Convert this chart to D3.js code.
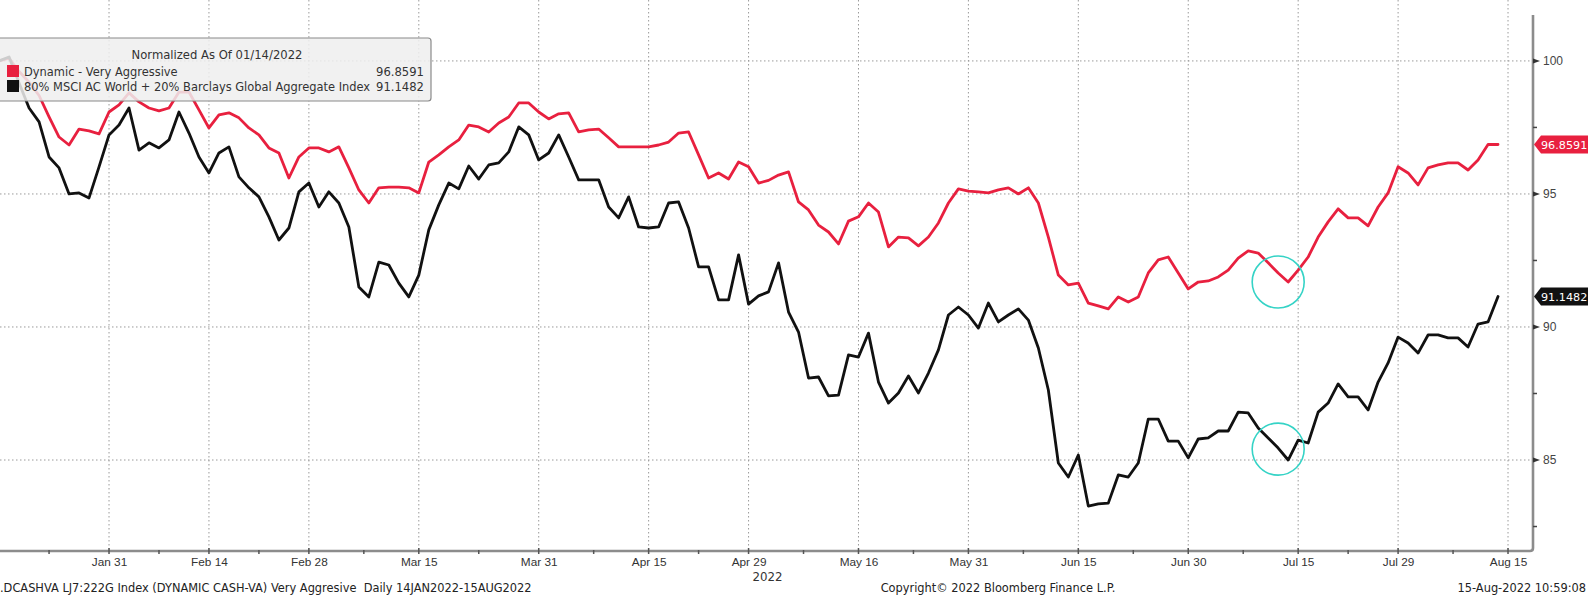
<!DOCTYPE html>
<html><head><meta charset="utf-8">
<script src="https://cdn.jsdelivr.net/npm/d3@7"></script>
<style>
html,body{margin:0;padding:0;background:#fff;overflow:hidden}
svg{display:block;font-family:"DejaVu Sans",sans-serif}
</style></head><body>
<svg id="chart" width="1588" height="600"></svg>
<script>
// ---------- data ----------
const startDate = "2022-01-14";
const endDate = "2022-08-12";
const seriesNames = ["Dynamic - Very Aggressive", "80% MSCI AC World + 20% Barclays Global Aggregate Index"];
const lastValues = ["96.8591", "91.1482"];
const legendTitle = "Normalized As Of 01/14/2022";

const dynamicVA = [
100.00,100.10,99.60,99.20,98.70,97.90,97.14,96.84,97.44,97.37,
97.26,98.08,98.35,98.80,98.46,98.23,98.12,98.23,98.83,98.83,
98.16,97.48,97.97,98.05,97.86,97.48,97.22,96.73,96.54,95.60,
96.39,96.73,96.73,96.58,96.77,95.98,95.15,94.66,95.23,95.26,
95.26,95.23,95.04,96.20,96.47,96.77,97.03,97.59,97.52,97.33,
97.67,97.89,98.42,98.42,98.08,97.82,98.01,98.05,97.33,97.41,
97.44,97.11,96.77,96.77,96.77,96.77,96.84,96.95,97.29,97.33,
96.47,95.60,95.79,95.56,96.20,96.02,95.41,95.51,95.71,95.83,
94.70,94.40,93.83,93.57,93.12,93.98,94.14,94.66,94.32,93.01,
93.38,93.35,93.05,93.38,93.91,94.66,95.19,95.11,95.08,95.04,
95.15,95.23,95.00,95.23,94.66,93.38,91.95,91.58,91.65,90.90,
90.79,90.68,91.13,90.94,91.13,92.03,92.52,92.63,92.03,91.43,
91.69,91.73,91.88,92.14,92.59,92.86,92.78,92.41,92.03,91.69,
92.14,92.63,93.38,93.95,94.44,94.10,94.10,93.80,94.51,95.04,
96.02,95.79,95.34,95.98,96.09,96.17,96.17,95.90,96.28,96.86,
96.8591];

const benchmark = [
100.00,100.15,99.17,98.23,97.71,96.39,95.98,95.00,95.04,94.85,
96.02,97.22,97.59,98.23,96.65,96.92,96.73,97.03,98.08,97.29,
96.39,95.79,96.54,96.77,95.64,95.23,94.89,94.14,93.27,93.72,
95.08,95.41,94.51,95.08,94.66,93.76,91.50,91.13,92.44,92.33,
91.65,91.13,91.95,93.65,94.59,95.41,95.19,96.05,95.56,96.09,
96.17,96.58,97.52,97.22,96.28,96.54,97.22,96.39,95.53,95.53,
95.53,94.51,94.10,94.89,93.76,93.72,93.76,94.66,94.70,93.72,
92.26,92.26,91.02,91.02,92.71,90.86,91.17,91.32,92.41,90.56,
89.81,88.08,88.12,87.41,87.44,88.95,88.87,89.77,87.93,87.14,
87.52,88.16,87.52,88.27,89.14,90.45,90.75,90.45,89.96,90.90,
90.19,90.45,90.68,90.26,89.21,87.63,84.89,84.36,85.19,83.27,
83.35,83.38,84.44,84.36,84.89,86.54,86.54,85.71,85.71,85.08,
85.79,85.83,86.09,86.09,86.80,86.77,86.20,85.83,85.45,85.00,
85.75,85.64,86.80,87.14,87.86,87.37,87.37,86.88,87.93,88.65,
89.62,89.40,89.02,89.70,89.70,89.59,89.59,89.25,90.11,90.19,
91.1482];

const tickDates = ["2022-01-31","2022-02-14","2022-02-28","2022-03-15","2022-03-31","2022-04-15","2022-04-29",
  "2022-05-16","2022-05-31","2022-06-15","2022-06-30","2022-07-15","2022-07-29","2022-08-15"];
const tickLabels = ["Jan 31","Feb 14","Feb 28","Mar 15","Mar 31","Apr 15","Apr 29",
  "May 16","May 31","Jun 15","Jun 30","Jul 15","Jul 29","Aug 15"];
const yearLabel = "2022";
const yTicks = [85, 90, 95, 100];
const yMinorTicks = [82.5, 87.5, 92.5, 97.5];
const highlightDate = "2022-07-13";
const highlightValues = [91.69, 85.41];

const footerLeft = ".DCASHVA LJ7:222G Index (DYNAMIC CASH-VA) Very Aggresive\u00A0\u00A0Daily 14JAN2022-15AUG2022";
const footerCenter = "Copyright\u00A9 2022 Bloomberg Finance L.P.";
const footerRight = "15-Aug-2022 10:59:08";

// ---------- setup ----------
const W = 1588, H = 600;
const plotL = 0, plotR = 1533, plotT = 0, plotB = 551;
const svg = d3.select("#chart");
const colors = ["#e8203f", "#111111"];

// business-day axis (weekdays)
const isWeekday = d => d.getUTCDay() !== 0 && d.getUTCDay() !== 6;
const allDays = d3.utcDay.range(new Date(startDate), d3.utcDay.offset(new Date("2022-08-20"), 1)).filter(isWeekday);
const dayIndex = new Map(allDays.map((d, i) => [d3.utcFormat("%Y-%m-%d")(d), i]));

const x = d3.scaleLinear().domain([0.09, 153.5]).range([plotL, plotR]);
const y = d3.scaleLinear().domain([81.58, 102.29]).range([plotB, plotT]);

// ---------- grid ----------
const grid = svg.append("g");
const tickIdx = tickDates.map(s => dayIndex.get(s));
grid.selectAll("line.v").data(tickIdx).join("line")
  .attr("x1", d => x(d)).attr("x2", d => x(d)).attr("y1", plotT).attr("y2", plotB)
  .attr("stroke", "#9a9a9a").attr("stroke-width", 1).attr("stroke-dasharray", "1.5,2.5");
grid.selectAll("line.h").data(yTicks).join("line")
  .attr("x1", plotL).attr("x2", plotR).attr("y1", d => y(d)).attr("y2", d => y(d))
  .attr("stroke", "#9a9a9a").attr("stroke-width", 1).attr("stroke-dasharray", "1.5,2.5");

// ---------- lines ----------
const line = d3.line().x((d, i) => x(i)).y(d => y(d));
[dynamicVA, benchmark].forEach((s, k) => {
  svg.append("path").datum(s).attr("d", line)
    .attr("fill", "none").attr("stroke", colors[k]).attr("stroke-width", 2.8)
    .attr("stroke-linejoin", "round").attr("stroke-linecap", "round");
});

// ---------- highlight circles ----------
svg.selectAll("circle.hl").data(highlightValues).join("circle")
  .attr("cx", x(dayIndex.get(highlightDate))).attr("cy", d => y(d)).attr("r", 26)
  .attr("fill", "none").attr("stroke", "#35d3c6").attr("stroke-width", 1.6);

// ---------- axes ----------
const axisColor = "#8c8c8c";
svg.append("path")
  .attr("d", `M${plotL},${plotB} H${plotR - 3} Q${plotR},${plotB} ${plotR},${plotB - 3} V15`)
  .attr("fill", "none").attr("stroke", axisColor).attr("stroke-width", 2.6);

// x ticks
const xAxis = d3.axisBottom(x).tickValues(tickIdx).tickFormat((d, i) => tickLabels[i]).tickSize(0).tickPadding(5);
const gx = svg.append("g").attr("transform", `translate(0,${plotB + 2})`).call(xAxis);
gx.select(".domain").remove();
gx.selectAll("text").attr("font-size", 11.8).attr("fill", "#333").attr("font-family", null);
svg.selectAll("line.xmaj").data(tickIdx).join("line")
  .attr("x1", d => x(d)).attr("x2", d => x(d)).attr("y1", plotB - 3).attr("y2", plotB + 3)
  .attr("stroke", "#555").attr("stroke-width", 1.5);
const minorIdx = [tickIdx[0] - 6].concat(d3.pairs(tickIdx).map(([a, b]) => (a + b) / 2));
svg.selectAll("line.xmin").data(minorIdx).join("line")
  .attr("x1", d => x(d)).attr("x2", d => x(d)).attr("y1", plotB - 1).attr("y2", plotB + 3)
  .attr("stroke", "#555").attr("stroke-width", 1.5);
svg.append("text").attr("x", x(tickIdx[6]) + 19).attr("y", 581).attr("text-anchor", "middle")
  .attr("font-size", 11.8).attr("fill", "#333").text(yearLabel);

// y ticks (right)
const yAxis = d3.axisRight(y).tickValues(yTicks).tickSize(0).tickPadding(10);
const gy = svg.append("g").attr("transform", `translate(${plotR},0)`).call(yAxis);
gy.select(".domain").remove();
gy.selectAll("text").attr("font-size", 12).attr("fill", "#444").attr("font-family", null);
svg.selectAll("path.ymaj").data(yTicks).join("path")
  .attr("d", d => `M${plotR},${y(d) - 2.5} L${plotR + 7},${y(d)} L${plotR},${y(d) + 2.5} Z`)
  .attr("fill", "#333");
svg.selectAll("line.ymin").data(yMinorTicks).join("line")
  .attr("x1", plotR).attr("x2", plotR + 4).attr("y1", d => y(d)).attr("y2", d => y(d))
  .attr("stroke", "#444").attr("stroke-width", 1.5);

// last value tags
[dynamicVA, benchmark].forEach((s, k) => {
  const yy = y(s[s.length - 1]);
  const g = svg.append("g");
  g.append("path")
    .attr("d", `M${plotR + 1},${yy} L${plotR + 8},${yy - 9} H${W + 4} V${yy + 9} H${plotR + 8} Z`)
    .attr("fill", colors[k]);
  g.append("text").attr("x", plotR + 8).attr("y", yy + 4.3).attr("font-size", 11.2)
    .attr("fill", "#fff").text(lastValues[k]);
});

// ---------- legend ----------
const lg = svg.append("g");
lg.append("rect").attr("x", -3).attr("y", 38).attr("width", 434).attr("height", 63).attr("rx", 3)
  .attr("fill", "rgba(238,238,238,0.85)").attr("stroke", "#8a8a8a").attr("stroke-width", 1.2);
lg.append("text").attr("x", 217).attr("y", 59).attr("text-anchor", "middle")
  .attr("font-size", 11.6).attr("fill", "#333").text(legendTitle);
seriesNames.forEach((n, k) => {
  const cy = 71 + k * 15;
  lg.append("rect").attr("x", 7).attr("y", cy - 6).attr("width", 12).attr("height", 12).attr("fill", colors[k]);
  lg.append("text").attr("x", 24).attr("y", cy + 4.5).attr("font-size", 11.45).attr("fill", "#333").text(n);
  lg.append("text").attr("x", 424).attr("y", cy + 4.5).attr("text-anchor", "end")
    .attr("font-size", 11.6).attr("fill", "#333").text(lastValues[k]);
});

// ---------- footer ----------
const ft = svg.append("g").attr("font-size", 11.4).attr("fill", "#222");
ft.append("text").attr("x", 0).attr("y", 592).text(footerLeft);
ft.append("text").attr("x", 998).attr("y", 592).attr("text-anchor", "middle").text(footerCenter);
ft.append("text").attr("x", 1586).attr("y", 592).attr("text-anchor", "end").text(footerRight);
</script>
</body></html>
